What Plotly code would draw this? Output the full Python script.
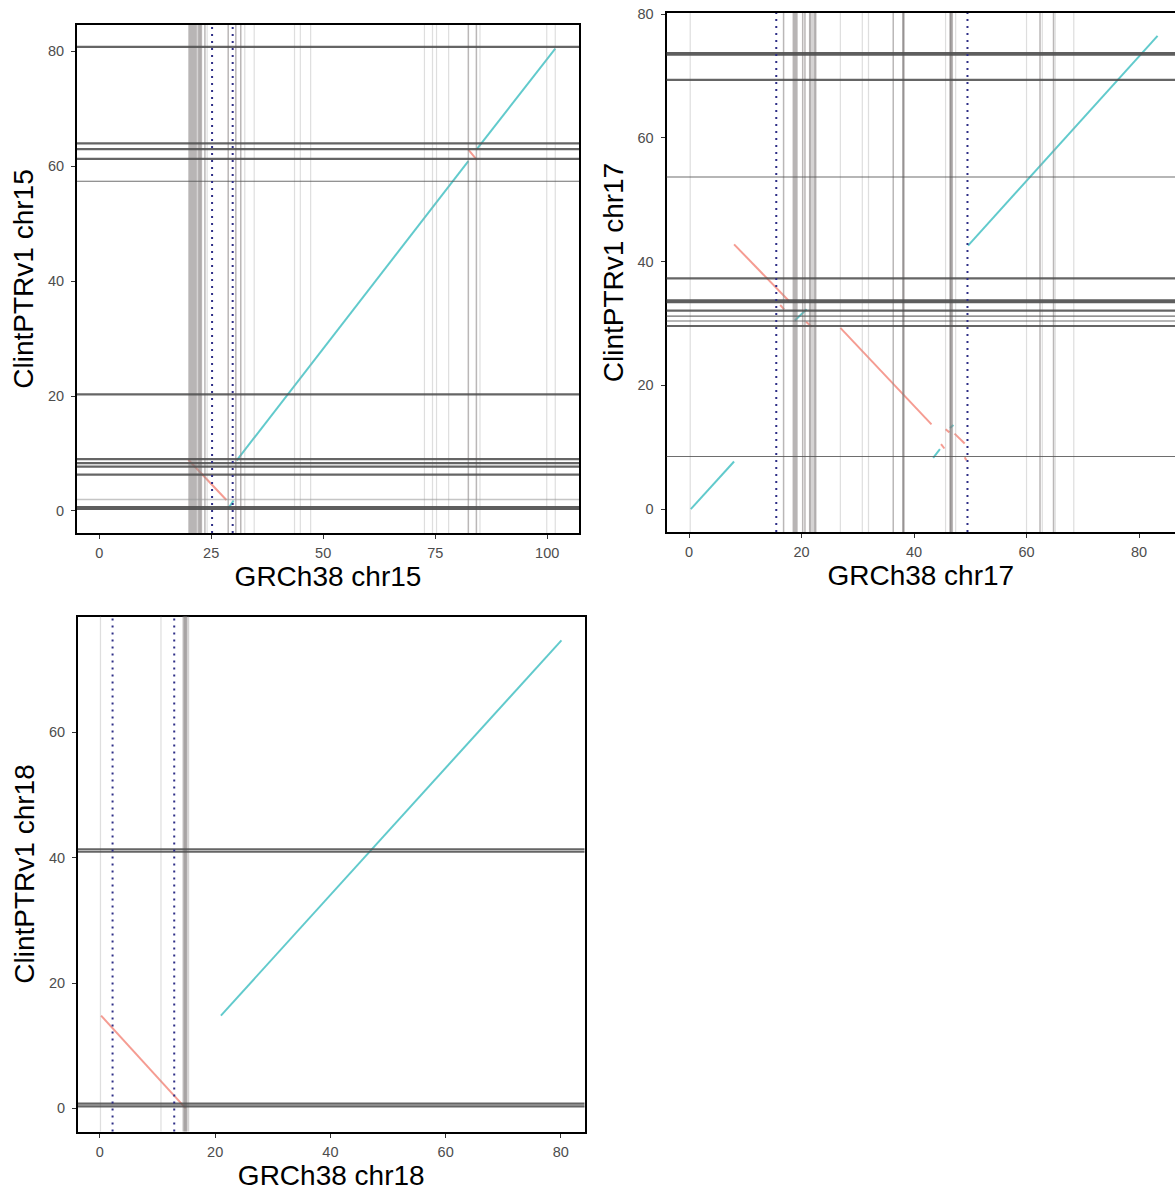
import plotly.graph_objects as go

W, H = 1175, 1191

# ---- chr15 ----
chr15_fwd = [(28.8, 0.4, 30.0, 1.8), (30.7, 8.8, 82.4, 60.9), (84.3, 63.0, 101.8, 80.5)]
chr15_inv = [(19.9, 8.9, 28.4, 1.9), (82.4, 62.9, 84.3, 61.1)]
chr15_h_heavy = [0.5]
chr15_h_regular = [80.8, 64.0, 63.0, 61.3, 20.3, 9.0, 8.3, 7.7, 6.3]
chr15_h_thin = [57.4]
chr15_h_faint = [2.0]
chr15_v_band_dark = [(19.9, 21.8)]
chr15_v_band_light = [(21.8, 23.0)]
chr15_v_dark = []
chr15_v_mid = [22.3, 22.7, 23.6, 28.8, 30.5, 31.6, 82.4, 84.2]
chr15_v_light = [24.1, 32.5, 34.6, 43.6, 44.9, 47.2, 72.6, 74.4, 75.3, 78.0, 85.0, 99.9, 101.8]
chr15_v_dotted = [25.2, 29.8]

# ---- chr17 ----
chr17_fwd = [(0.3, 0.0, 8.0, 7.7), (18.8, 30.5, 20.9, 32.3), (43.4, 8.3, 44.6, 9.7),
             (46.4, 13.1, 47.0, 13.6), (49.6, 42.6, 83.3, 76.5)]
chr17_inv = [(8.0, 42.8, 17.8, 33.6), (16.2, 33.0, 16.9, 32.3), (20.8, 30.3, 21.8, 29.5),
             (26.9, 29.3, 43.1, 13.7), (45.6, 12.9, 46.3, 12.4), (47.2, 12.2, 49.0, 10.6),
             (44.8, 10.5, 45.4, 9.8), (49.0, 8.4, 49.3, 7.9)]
chr17_h_heavy = [73.6, 33.6]
chr17_h_regular = [69.4, 37.3, 32.1, 29.6]
chr17_h_thin = [53.7, 31.2, 30.4, 8.5]
chr17_h_faint = []
chr17_v_band_dark = [(18.4, 19.3)]
chr17_v_band_light = [(21.3, 22.7)]
chr17_v_dark = [38.1, 46.5]
chr17_v_mid = [16.8, 20.2, 20.6, 21.5, 22.4, 36.3, 46.8, 62.4, 64.8]
chr17_v_light = [0.2, 26.9, 30.8, 31.9, 45.6, 47.4, 60.0, 62.8, 65.1, 68.4]
chr17_v_dotted = [15.5, 49.5]

# ---- chr18 ----
chr18_fwd = [(21.0, 14.8, 80.1, 74.7)]
chr18_inv = [(0.2, 14.8, 14.9, 0.0)]
chr18_h_heavy = []
chr18_h_regular = [40.95, 41.35, 0.3, 0.75]
chr18_h_thin = []
chr18_h_faint = []
chr18_v_band_dark = [(14.5, 15.1)]
chr18_v_band_light = [(14.3, 15.5)]
chr18_v_dark = []
chr18_v_mid = []
chr18_v_light = [0.1, 10.6]
chr18_v_dotted = [2.2, 12.9]

FWD_COLOR = "rgba(0,170,172,0.62)"
INV_COLOR = "rgba(240,105,90,0.66)"
FONT = "Liberation Sans, Arial, Helvetica, sans-serif"

panels = [
    dict(name="chr15", fwd=chr15_fwd, inv=chr15_inv,
         h=(chr15_h_heavy, chr15_h_regular, chr15_h_thin, chr15_h_faint),
         v=(chr15_v_band_dark, chr15_v_band_light, chr15_v_dark, chr15_v_mid, chr15_v_light, chr15_v_dotted),
         px=(77, 579, 25, 533), xr=[-4.95, 107.1], yr=[-3.85, 84.6],
         xt=[0, 25, 50, 75, 100], yt=[0, 20, 40, 60, 80], right_open=False),
    dict(name="chr17", fwd=chr17_fwd, inv=chr17_inv,
         h=(chr17_h_heavy, chr17_h_regular, chr17_h_thin, chr17_h_faint),
         v=(chr17_v_band_dark, chr17_v_band_light, chr17_v_dark, chr17_v_mid, chr17_v_light, chr17_v_dotted),
         px=(666.6, 1175, 13, 532), xr=[-4.0, 86.4], yr=[-3.7, 80.2],
         xt=[0, 20, 40, 60, 80], yt=[0, 20, 40, 60, 80], right_open=True),
    dict(name="chr18", fwd=chr18_fwd, inv=chr18_inv,
         h=(chr18_h_heavy, chr18_h_regular, chr18_h_thin, chr18_h_faint),
         v=(chr18_v_band_dark, chr18_v_band_light, chr18_v_dark, chr18_v_mid, chr18_v_light, chr18_v_dotted),
         px=(78, 584.5, 616.5, 1131.5), xr=[-3.8, 84.1], yr=[-3.7, 78.5],
         xt=[0, 20, 40, 60, 80], yt=[0, 20, 40, 60], right_open=False),
]

fig = go.Figure()
shapes = []


def seg_xy(segs):
    xs, ys = [], []
    for x0, y0, x1, y1 in segs:
        xs += [x0, x1, None]
        ys += [y0, y1, None]
    return xs, ys


for i, p in enumerate(panels, start=1):
    xa = "x" if i == 1 else f"x{i}"
    ya = "y" if i == 1 else f"y{i}"
    xkey = "xaxis" if i == 1 else f"xaxis{i}"
    ykey = "yaxis" if i == 1 else f"yaxis{i}"

    # alignment segments
    for segs, col in ((p["fwd"], FWD_COLOR), (p["inv"], INV_COLOR)):
        xs, ys = seg_xy(segs)
        fig.add_trace(go.Scatter(x=xs, y=ys, mode="lines", xaxis=xa, yaxis=ya,
                                 line=dict(color=col, width=2), showlegend=False,
                                 hoverinfo="skip"))

    band_dark, band_light, v_dark, v_mid, v_light, v_dotted = p["v"]
    h_heavy, h_regular, h_thin, h_faint = p["h"]

    # duplication bands on the reference axis
    for (a, b) in band_light:
        shapes.append(dict(type="rect", xref=xa, yref=f"{ya} domain", x0=a, x1=b, y0=0, y1=1,
                           fillcolor="rgba(150,145,145,0.40)", line=dict(width=0), layer="above"))
    for (a, b) in band_dark:
        shapes.append(dict(type="rect", xref=xa, yref=f"{ya} domain", x0=a, x1=b, y0=0, y1=1,
                           fillcolor="rgba(140,135,135,0.62)", line=dict(width=0), layer="above"))

    def vline(x, color, width, dash="solid"):
        shapes.append(dict(type="line", xref=xa, yref=f"{ya} domain", x0=x, x1=x, y0=0, y1=1,
                           line=dict(color=color, width=width, dash=dash), layer="above"))

    def hline(y, color, width):
        shapes.append(dict(type="line", xref=f"{xa} domain", yref=ya, x0=0, x1=1, y0=y, y1=y,
                           line=dict(color=color, width=width), layer="above"))

    for x in v_light:
        vline(x, "rgba(160,160,160,0.35)", 1.2)
    for x in v_mid:
        vline(x, "rgba(140,135,135,0.60)", 1.5)
    for x in v_dark:
        vline(x, "rgba(125,120,120,0.80)", 2.2)

    for y in h_faint:
        hline(y, "rgba(150,150,150,0.55)", 1.5)
    for y in h_thin:
        hline(y, "rgba(85,85,85,0.85)", 1.1)
    for y in h_regular:
        hline(y, "rgba(80,80,80,0.88)", 2.2)
    for y in h_heavy:
        hline(y, "rgba(80,80,80,0.92)", 3.8)

    for x in v_dotted:
        vline(x, "#2e2e86", 2, dash="2px,5px")

    x0p, x1p, y0p, y1p = p["px"]
    fig.layout[xkey] = dict(
        domain=[x0p / W, min(x1p / W, 1.0)], anchor=ya, range=p["xr"], automargin=False,
        tickvals=p["xt"], ticks="outside", ticklen=4, tickwidth=1, tickcolor="#333333",
        tickfont=dict(family=FONT, size=14.5, color="#4d4d4d"), ticklabelstandoff=2,
        showgrid=False, zeroline=False, showline=True, linecolor="black", linewidth=2,
        mirror=True,
        title=dict(text=f"GRCh38 {p['name']}", font=dict(family=FONT, size=28, color="black"),
                   standoff=6),
    )
    fig.layout[ykey] = dict(
        domain=[1 - y1p / H, 1 - y0p / H], anchor=xa, range=p["yr"], automargin=False,
        tickvals=p["yt"], ticks="outside", ticklen=4, tickwidth=1, tickcolor="#333333",
        tickfont=dict(family=FONT, size=14.5, color="#4d4d4d"), ticklabelstandoff=4,
        showgrid=False, zeroline=False, showline=True, linecolor="black", linewidth=2,
        mirror=not p["right_open"],
        title=dict(text=f"ClintPTRv1 {p['name']}", font=dict(family=FONT, size=28, color="black"),
                   standoff=6),
    )

fig.update_layout(
    template="none",
    width=W, height=H, autosize=False,
    margin=dict(l=0, r=0, t=0, b=0, pad=0),
    paper_bgcolor="white", plot_bgcolor="white",
    shapes=shapes, showlegend=False,
)

fig.write_html("out.html", config={"displayModeBar": False})
